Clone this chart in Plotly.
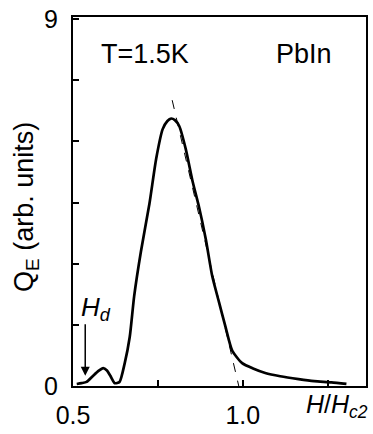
import plotly.graph_objects as go

# Measured curve Q_E vs H/Hc2
h_ratio = [0.511, 0.525, 0.540, 0.558, 0.575, 0.589, 0.600, 0.610, 0.623, 0.637, 0.652,
           0.667, 0.680, 0.700, 0.725, 0.745, 0.764, 0.778, 0.789, 0.800, 0.813, 0.832,
           0.852, 0.871, 0.891, 0.910, 0.930, 0.949, 0.969, 0.998, 1.030, 1.066, 1.110,
           1.164, 1.210, 1.261, 1.305]
q_e = [0.05, 0.07, 0.10, 0.24, 0.37, 0.44, 0.38, 0.25, 0.07, 0.10, 0.55,
       1.20, 2.20, 3.30, 4.47, 5.58, 6.30, 6.50, 6.56, 6.52, 6.37, 5.81,
       5.02, 4.39, 3.60, 2.69, 2.05, 1.45, 0.86, 0.56, 0.43, 0.32, 0.24,
       0.17, 0.12, 0.09, 0.05]

# Linear extrapolation (dashed)
fit_x = [0.792, 0.988]
fit_y = [7.01, 0.0]

x_tickvals = [0.5, 1.0]
x_ticktext = ["0.5", "1.0"]
x_minorvals = [0.75, 1.25]
y_tickvals = [0, 9]
y_ticktext = ["0", "9"]
y_minorvals = [1.5, 3, 4.5, 6, 7.5]

FONT = "Liberation Sans, Arial, sans-serif"

fig = go.Figure()
fig.add_trace(go.Scatter(x=fit_x, y=fit_y, mode="lines",
                         line=dict(color="black", width=1, dash="dash"),
                         showlegend=False, hoverinfo="skip"))
fig.add_trace(go.Scatter(x=h_ratio, y=q_e, mode="lines",
                         line=dict(color="black", width=2.7, shape="spline", smoothing=0.6),
                         showlegend=False))

axis_common = dict(ticks="inside", ticklen=6, tickwidth=1.5, tickcolor="black",
                   showline=True, linecolor="black", linewidth=2, mirror=True,
                   showgrid=False, zeroline=False, ticklabeloverflow="allow",
                   tickfont=dict(size=25))

fig.update_layout(
    width=373, height=434,
    margin=dict(l=73, r=5, t=9, b=42),
    plot_bgcolor="white", paper_bgcolor="white",
    font=dict(family=FONT, color="black", size=24),
    xaxis=dict(range=[0.5, 1.3626], tickvals=x_tickvals, ticktext=x_ticktext,
               ticklabelstandoff=6,
               minor=dict(tickvals=x_minorvals, ticks="inside", ticklen=6,
                          tickwidth=1.5, tickcolor="black", showgrid=False),
               **axis_common),
    yaxis=dict(range=[0, 9.05], tickvals=y_tickvals, ticktext=y_ticktext,
               ticklabelstandoff=8,
               minor=dict(tickvals=y_minorvals, ticks="inside", ticklen=6,
                          tickwidth=1.5, tickcolor="black", showgrid=False),
               **axis_common),
)

fig.add_annotation(text="Q<sub>E</sub> (arb. units)", xref="paper", yref="paper",
                   x=-0.16, y=(392 - 206) / 383, textangle=-90, showarrow=False,
                   xanchor="center", yanchor="middle", font=dict(size=27))
fig.add_annotation(text="T=1.5K", xref="paper", yref="paper", x=(145 - 73) / 295,
                   y=(392 - 47) / 383, showarrow=False, xanchor="center",
                   yanchor="middle", font=dict(size=27))
fig.add_annotation(text="PbIn", xref="paper", yref="paper", x=(306 - 73) / 295,
                   y=(392 - 47) / 383, showarrow=False, xanchor="center",
                   yanchor="middle", font=dict(size=27))
fig.add_annotation(text="<i>H</i><sub><i>d</i></sub>", xref="paper", yref="paper",
                   x=(79 - 73) / 295, y=(392 - 312) / 383, showarrow=False,
                   xanchor="left", yanchor="middle", font=dict(size=26))
fig.add_annotation(x=0.536, y=0.25, xref="x", yref="y", ax=0.536, ay=1.55,
                   axref="x", ayref="y", text="", showarrow=True, standoff=0,
                   startstandoff=0, arrowhead=2, arrowsize=1.2, arrowwidth=1.5,
                   arrowcolor="black")
fig.add_annotation(text="<i>H</i>/<i>H</i><sub><i>c2</i></sub>", xref="paper", yref="paper",
                   x=(372 - 73) / 295, y=(392 - 413) / 383, showarrow=False,
                   xanchor="right", yanchor="middle", font=dict(size=25))

fig.write_html("out.html")
